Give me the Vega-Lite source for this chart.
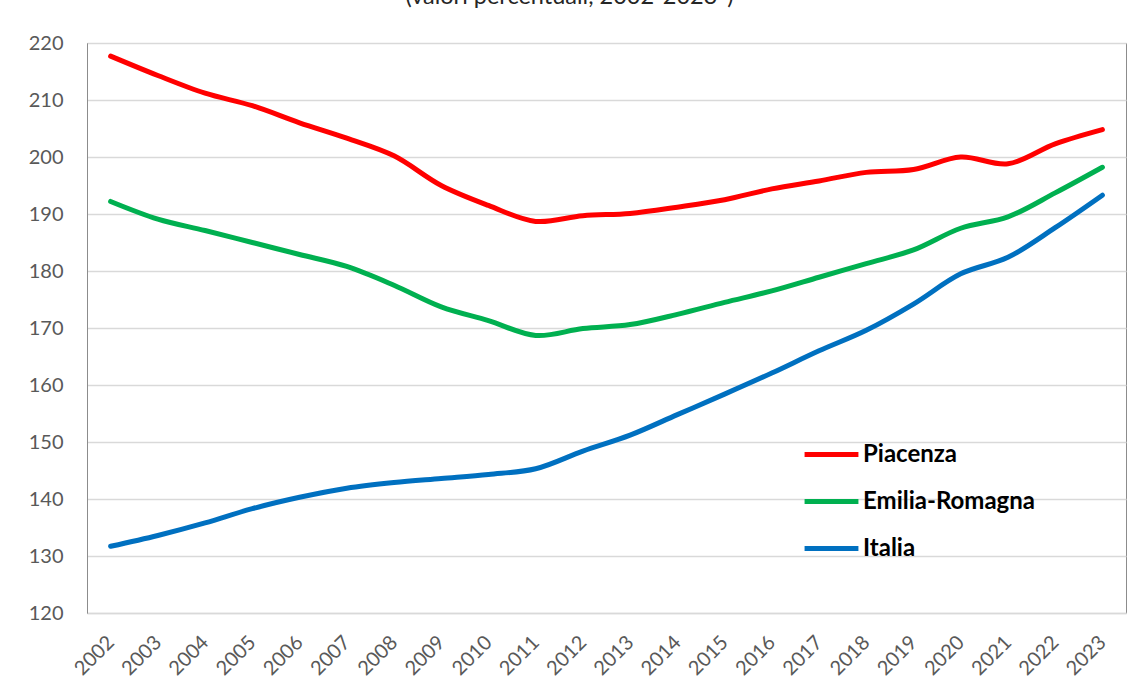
{
  "$schema": "https://vega.github.io/schema/vega-lite/v6.json",
  "width": 1039,
  "height": 570,
  "autosize": {"type": "none"},
  "padding": {"left": 87, "top": 43, "right": 16, "bottom": 80},
  "background": "white",
  "title": {
    "text": "(valori percentuali, 2002-2023*)",
    "anchor": "middle",
    "frame": "group",
    "dx": -37,
    "baseline": "alphabetic",
    "offset": 6,
    "font": "Lato",
    "fontSize": 23.5,
    "fontWeight": "normal",
    "color": "#262626"
  },
  "config": {
    "view": {"stroke": "#8c8c8c", "strokeWidth": 1},
    "font": "Lato"
  },
  "data": {
    "values": [
      {"year": "2002", "area": "Piacenza", "value": 217.7},
      {"year": "2003", "area": "Piacenza", "value": 214.3},
      {"year": "2004", "area": "Piacenza", "value": 211.2},
      {"year": "2005", "area": "Piacenza", "value": 209.0},
      {"year": "2006", "area": "Piacenza", "value": 206.0},
      {"year": "2007", "area": "Piacenza", "value": 203.3},
      {"year": "2008", "area": "Piacenza", "value": 200.2},
      {"year": "2009", "area": "Piacenza", "value": 195.0},
      {"year": "2010", "area": "Piacenza", "value": 191.5},
      {"year": "2011", "area": "Piacenza", "value": 188.7},
      {"year": "2012", "area": "Piacenza", "value": 189.7},
      {"year": "2013", "area": "Piacenza", "value": 190.1},
      {"year": "2014", "area": "Piacenza", "value": 191.2},
      {"year": "2015", "area": "Piacenza", "value": 192.5},
      {"year": "2016", "area": "Piacenza", "value": 194.4},
      {"year": "2017", "area": "Piacenza", "value": 195.8},
      {"year": "2018", "area": "Piacenza", "value": 197.3},
      {"year": "2019", "area": "Piacenza", "value": 197.8},
      {"year": "2020", "area": "Piacenza", "value": 200.0},
      {"year": "2021", "area": "Piacenza", "value": 198.8},
      {"year": "2022", "area": "Piacenza", "value": 202.3},
      {"year": "2023", "area": "Piacenza", "value": 204.8},
      {"year": "2002", "area": "Emilia-Romagna", "value": 192.2},
      {"year": "2003", "area": "Emilia-Romagna", "value": 189.1},
      {"year": "2004", "area": "Emilia-Romagna", "value": 187.1},
      {"year": "2005", "area": "Emilia-Romagna", "value": 185.0},
      {"year": "2006", "area": "Emilia-Romagna", "value": 182.9},
      {"year": "2007", "area": "Emilia-Romagna", "value": 180.8},
      {"year": "2008", "area": "Emilia-Romagna", "value": 177.5},
      {"year": "2009", "area": "Emilia-Romagna", "value": 173.7},
      {"year": "2010", "area": "Emilia-Romagna", "value": 171.3},
      {"year": "2011", "area": "Emilia-Romagna", "value": 168.7},
      {"year": "2012", "area": "Emilia-Romagna", "value": 169.9},
      {"year": "2013", "area": "Emilia-Romagna", "value": 170.6},
      {"year": "2014", "area": "Emilia-Romagna", "value": 172.4},
      {"year": "2015", "area": "Emilia-Romagna", "value": 174.5},
      {"year": "2016", "area": "Emilia-Romagna", "value": 176.5},
      {"year": "2017", "area": "Emilia-Romagna", "value": 178.9},
      {"year": "2018", "area": "Emilia-Romagna", "value": 181.3},
      {"year": "2019", "area": "Emilia-Romagna", "value": 183.7},
      {"year": "2020", "area": "Emilia-Romagna", "value": 187.5},
      {"year": "2021", "area": "Emilia-Romagna", "value": 189.5},
      {"year": "2022", "area": "Emilia-Romagna", "value": 193.7},
      {"year": "2023", "area": "Emilia-Romagna", "value": 198.2},
      {"year": "2002", "area": "Italia", "value": 131.7},
      {"year": "2003", "area": "Italia", "value": 133.6},
      {"year": "2004", "area": "Italia", "value": 135.8},
      {"year": "2005", "area": "Italia", "value": 138.3},
      {"year": "2006", "area": "Italia", "value": 140.3},
      {"year": "2007", "area": "Italia", "value": 141.9},
      {"year": "2008", "area": "Italia", "value": 142.9},
      {"year": "2009", "area": "Italia", "value": 143.6},
      {"year": "2010", "area": "Italia", "value": 144.3},
      {"year": "2011", "area": "Italia", "value": 145.3},
      {"year": "2012", "area": "Italia", "value": 148.4},
      {"year": "2013", "area": "Italia", "value": 151.2},
      {"year": "2014", "area": "Italia", "value": 154.8},
      {"year": "2015", "area": "Italia", "value": 158.4},
      {"year": "2016", "area": "Italia", "value": 162.1},
      {"year": "2017", "area": "Italia", "value": 166.0},
      {"year": "2018", "area": "Italia", "value": 169.6},
      {"year": "2019", "area": "Italia", "value": 174.2},
      {"year": "2020", "area": "Italia", "value": 179.5},
      {"year": "2021", "area": "Italia", "value": 182.4},
      {"year": "2022", "area": "Italia", "value": 187.6},
      {"year": "2023", "area": "Italia", "value": 193.3}
    ]
  },
  "mark": {"type": "line", "strokeWidth": 5, "interpolate": "catmull-rom", "strokeCap": "round"},
  "encoding": {
    "x": {
      "field": "year",
      "type": "ordinal",
      "scale": {"type": "point", "padding": 0.5},
      "axis": {
        "title": null,
        "labelAngle": -45,
        "labelAlign": "right",
        "labelBaseline": "middle",
        "labelFont": "Lato",
        "labelFontSize": 20,
        "labelColor": "#595959",
        "labelPadding": 26,
        "ticks": false,
        "domainColor": "#d9d9d9",
        "domainWidth": 1.5,
        "grid": false
      }
    },
    "y": {
      "field": "value",
      "type": "quantitative",
      "scale": {"domain": [120, 220], "nice": false, "zero": false},
      "axis": {
        "title": null,
        "values": [120, 130, 140, 150, 160, 170, 180, 190, 200, 210, 220],
        "labelFont": "Lato",
        "labelFontSize": 20,
        "labelColor": "#595959",
        "labelPadding": 24,
        "ticks": false,
        "domainColor": "#8c8c8c",
        "gridColor": "#d9d9d9",
        "gridWidth": 1.5
      }
    },
    "color": {
      "field": "area",
      "type": "nominal",
      "scale": {"domain": ["Piacenza", "Emilia-Romagna", "Italia"], "range": ["#FF0000", "#00B050", "#0070C0"]},
      "legend": {
        "title": null,
        "orient": "none",
        "legendX": 715,
        "legendY": 382,
        "symbolType": "stroke",
        "symbolSize": 2900,
        "symbolStrokeWidth": 5,
        "labelFont": "Lato",
        "labelFontSize": 24,
        "labelFontWeight": "bold",
        "labelColor": "#000000",
        "labelOffset": 2,
        "labelLimit": 400,
        "rowPadding": 5
      }
    }
  }
}
